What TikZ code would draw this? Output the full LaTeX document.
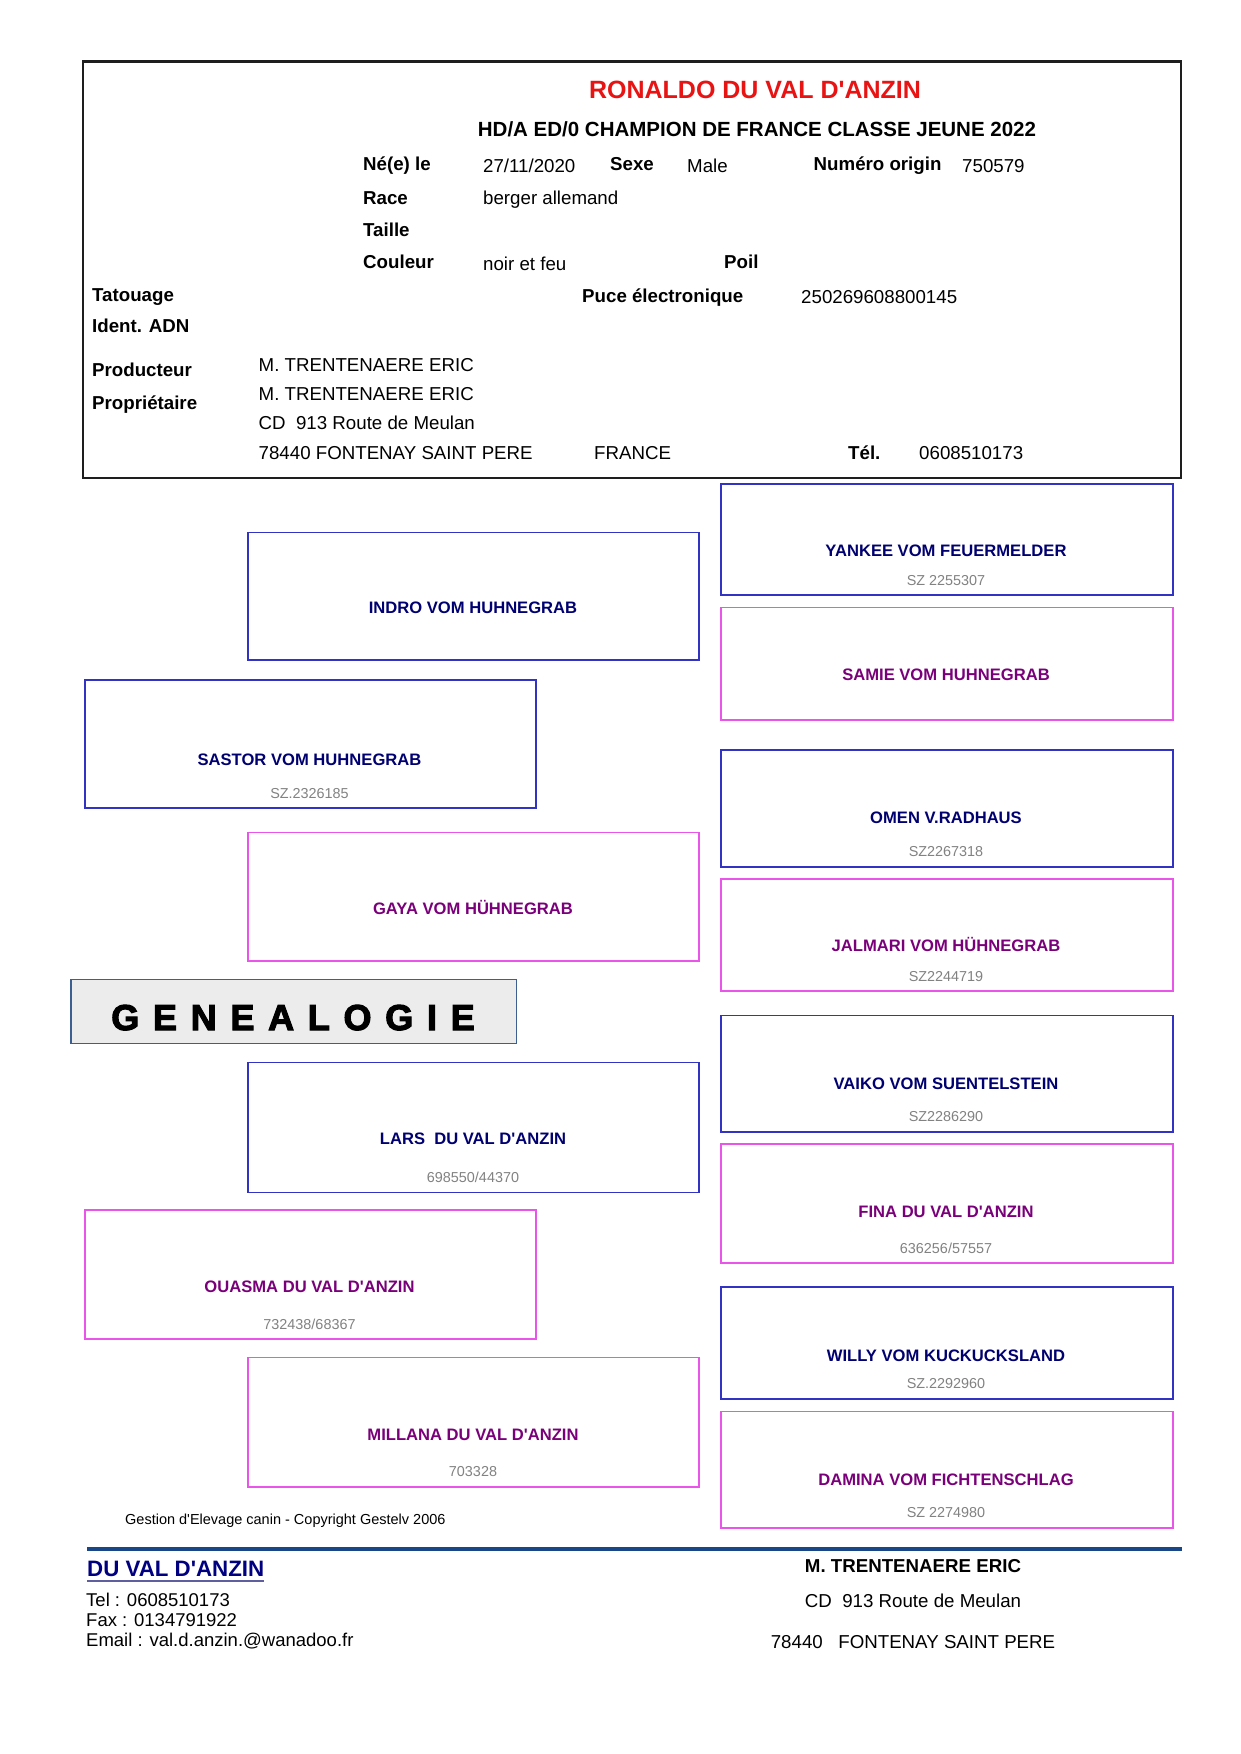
\documentclass[tikz,border=0pt]{standalone}
\usepackage{fontspec}
\newfontfamily\arial{Liberation Sans}
\newfontfamily\genfont[LetterSpace=10.3,BoldFeatures={FakeBold=3}]{Liberation Sans}
\definecolor{malebd}{RGB}{50,50,195}
\definecolor{femalebd}{RGB}{232,85,232}
\definecolor{malename}{RGB}{0,0,112}
\definecolor{femalename}{RGB}{122,0,122}
\definecolor{subgray}{RGB}{130,130,130}
\definecolor{titlered}{RGB}{232,20,20}
\definecolor{framec}{RGB}{30,30,30}
\definecolor{footline}{RGB}{25,70,135}
\definecolor{footname}{RGB}{0,0,128}
\definecolor{footul}{RGB}{95,95,160}
\definecolor{genbd}{RGB}{60,95,145}
\definecolor{genfill}{RGB}{236,236,236}
\newcommand\fbody{\arial\fontsize{18.7}{22}\selectfont}
\newcommand\fpname{\arial\fontsize{16.6}{20}\selectfont\bfseries}
\newcommand\fsubno{\arial\fontsize{14.4}{17}\selectfont}
\tikzset{
  lbl/.style={inner sep=0, anchor=base west, font=\fbody\bfseries},
  val/.style={inner sep=0, anchor=base west, font=\fbody},
  mbox/.style={draw=malebd, line width=1.5, anchor=north west, inner sep=0},
  fbox/.style={draw=femalebd, line width=1.5, anchor=north west, inner sep=0},
  mnm/.style={inner sep=0, anchor=base, font=\fpname, text=malename},
  fnm/.style={inner sep=0, anchor=base, font=\fpname, text=femalename},
  subno/.style={inner sep=0, anchor=base, font=\fsubno, text=subgray},
  colone/.style={minimum width=451},
  coltwo/.style={minimum width=451},
  colthree/.style={minimum width=452}
}
\begin{document}
\begin{tikzpicture}[x=1pt,y=-1pt]
\fill[white] (0,0) rectangle (1241,1754);
\useasboundingbox (0,0) rectangle (1241,1754);

% ---------- header frame ----------
\node[draw=framec, line width=2.5, anchor=north west, inner sep=0,
      minimum width=1097.8, minimum height=416.3] (frame) at (81.7,60.4) {};
\node[inner sep=0, anchor=base, font=\arial\fontsize{25}{28}\selectfont\bfseries, text=titlered]
  (title) at (755,98) {RONALDO DU VAL D'ANZIN};
\node[inner sep=0, anchor=base, font=\arial\fontsize{20.5}{24}\selectfont\bfseries]
  (subtitle) at (757,136) {HD/A ED/0 CHAMPION DE FRANCE CLASSE JEUNE 2022};

\node[lbl] (l-ne) at (363,170) {Né(e) le};
\node[val] (v-ne) at (483,172) {27/11/2020};
\node[lbl] (l-sexe) at (610,170) {Sexe};
\node[val] (v-sexe) at (687,172) {Male};
\node[lbl] (l-num) at (813.5,170) {Numéro origin};
\node[val] (v-num) at (962,172) {750579};
\node[lbl] (l-race) at (363,204) {Race};
\node[val] (v-race) at (483,204) {berger allemand};
\node[lbl] (l-taille) at (363,236) {Taille};
\node[lbl] (l-couleur) at (363,268) {Couleur};
\node[val] (v-couleur) at (483,270) {noir et feu};
\node[lbl] (l-poil) at (724,268) {Poil};
\node[lbl] (l-tat) at (92,301) {Tatouage};
\node[lbl] (l-puce) at (582,302) {Puce électronique};
\node[val] (v-puce) at (801,303) {250269608800145};
\node[lbl] (l-adn) at (92,332.7) {Ident. ADN};
\node[lbl] (l-prod) at (92,376.7) {Producteur};
\node[val] (v-prod) at (258.5,371) {M. TRENTENAERE ERIC};
\node[lbl] (l-prop) at (92,409.3) {Propriétaire};
\node[val] (v-prop) at (258.5,400) {M. TRENTENAERE ERIC};
\node[val] (v-adr1) at (258.5,429) {CD\ \ 913 Route de Meulan};
\node[val] (v-adr2) at (258.5,459) {78440 FONTENAY SAINT PERE};
\node[val] (v-pays) at (594,459) {FRANCE};
\node[lbl] (l-tel) at (848,459) {Tél.};
\node[val] (v-tel) at (919,459) {0608510173};

% ---------- column 2 (grandparents) ----------
\node[mbox, coltwo, minimum height=127.6] (b-indro) at (247.4,531.7) {};
\node[mnm] (t-indro) at (473,613.3) {INDRO VOM HUHNEGRAB};

\node[fbox, coltwo, minimum height=128.6] (b-gaya) at (247.4,831.7) {};
\node[fnm] (t-gaya) at (473,914) {GAYA VOM HÜHNEGRAB};

\node[mbox, coltwo, minimum height=130] (b-lars) at (247.4,1061.7) {};
\node[mnm] (t-lars) at (473,1144.3) {LARS\ \ DU VAL D'ANZIN};
\node[subno] (s-lars) at (473,1182.3) {698550/44370};

\node[fbox, coltwo, minimum height=129.3] (b-millana) at (247.4,1356.7) {};
\node[fnm] (t-millana) at (473,1440.7) {MILLANA DU VAL D'ANZIN};
\node[subno] (s-millana) at (473,1476.7) {703328};

% ---------- column 1 (parents) ----------
\node[mbox, colone, minimum height=128] (b-sastor) at (84,679.3) {};
\node[mnm] (t-sastor) at (309.5,765.7) {SASTOR VOM HUHNEGRAB};
\node[subno] (s-sastor) at (309.5,798.3) {SZ.2326185};

\node[fbox, colone, minimum height=129] (b-ouasma) at (84,1209.3) {};
\node[fnm] (t-ouasma) at (309.5,1292.7) {OUASMA DU VAL D'ANZIN};
\node[subno] (s-ouasma) at (309.5,1329) {732438/68367};

% ---------- column 3 (great-grandparents) ----------
\node[mbox, colthree, minimum height=111] (b-yankee) at (720,483.3) {};
\node[mnm] (t-yankee) at (946,556) {YANKEE VOM FEUERMELDER};
\node[subno] (s-yankee) at (946,585) {SZ 2255307};

\node[fbox, colthree, minimum height=112.6] (b-samie) at (720,606.7) {};
\node[fnm] (t-samie) at (946,680.7) {SAMIE VOM HUHNEGRAB};

\node[mbox, colthree, minimum height=116.7] (b-omen) at (720,749.3) {};
\node[mnm] (t-omen) at (946,823.3) {OMEN V.RADHAUS};
\node[subno] (s-omen) at (946,856.7) {SZ2267318};

\node[fbox, colthree, minimum height=111.7] (b-jalmari) at (720,878.3) {};
\node[fnm] (t-jalmari) at (946,951.7) {JALMARI VOM HÜHNEGRAB};
\node[subno] (s-jalmari) at (946,981.7) {SZ2244719};

\node[mbox, colthree, minimum height=116.7] (b-vaiko) at (720,1014.5) {};
\node[mnm] (t-vaiko) at (946,1089) {VAIKO VOM SUENTELSTEIN};
\node[subno] (s-vaiko) at (946,1121) {SZ2286290};

\node[fbox, colthree, minimum height=119] (b-fina) at (720,1143) {};
\node[fnm] (t-fina) at (946,1217.6) {FINA DU VAL D'ANZIN};
\node[subno] (s-fina) at (946,1253) {636256/57557};

\node[mbox, colthree, minimum height=112] (b-willy) at (720,1286) {};
\node[mnm] (t-willy) at (946,1361) {WILLY VOM KUCKUCKSLAND};
\node[subno] (s-willy) at (946,1388) {SZ.2292960};

\node[fbox, colthree, minimum height=116.5] (b-damina) at (720,1410.5) {};
\node[fnm] (t-damina) at (946,1485) {DAMINA VOM FICHTENSCHLAG};
\node[subno] (s-damina) at (946,1517) {SZ 2274980};

% ---------- GENEALOGIE banner ----------
\node[draw=genbd, fill=genfill, line width=1.5, anchor=north west, inner sep=0,
      minimum width=445.5, minimum height=64.2] (b-gen) at (70,978.5) {};
\node[inner sep=0, anchor=base, font=\genfont\fontsize{36}{40}\selectfont\bfseries]
  (t-gen) at (293,1030) {G E N E A L O G I E};

% ---------- footer ----------
\node[inner sep=0, anchor=base west, font=\arial\fontsize{14.5}{17}\selectfont]
  (copy) at (125,1524) {Gestion d'Elevage canin - Copyright Gestelv 2006};
\coordinate (fl-a) at (87,1549);
\coordinate (fl-b) at (1182,1549);
\draw[footline, line width=4.3] (fl-a) -- (fl-b);

\node[inner sep=0, anchor=base west, font=\arial\fontsize{22.3}{26}\selectfont\bfseries, text=footname]
  (kennel) at (87,1576.7) {DU VAL D'ANZIN};
\draw[footul, line width=2] (kennel.base west |- 0,1580.5) -- (kennel.base east |- 0,1580.5);
\node[inner sep=0, anchor=base west, font=\arial\fontsize{18.5}{21}\selectfont]
  (f-tel) at (86,1606.7) {Tel : 0608510173};
\node[inner sep=0, anchor=base west, font=\arial\fontsize{18.5}{21}\selectfont]
  (f-fax) at (86,1626) {Fax : 0134791922};
\node[inner sep=0, anchor=base west, font=\arial\fontsize{18.5}{21}\selectfont]
  (f-mail) at (86,1646.7) {Email : val.d.anzin.@wanadoo.fr};

\node[inner sep=0, anchor=base, font=\fbody\bfseries] (f-owner) at (913,1572.7) {M. TRENTENAERE ERIC};
\node[inner sep=0, anchor=base, font=\fbody] (f-adr1) at (913,1607.7) {CD\ \ 913 Route de Meulan};
\node[inner sep=0, anchor=base, font=\fbody] (f-adr2) at (913,1648.3) {78440\ \ \ FONTENAY SAINT PERE};
\end{tikzpicture}
\end{document}
